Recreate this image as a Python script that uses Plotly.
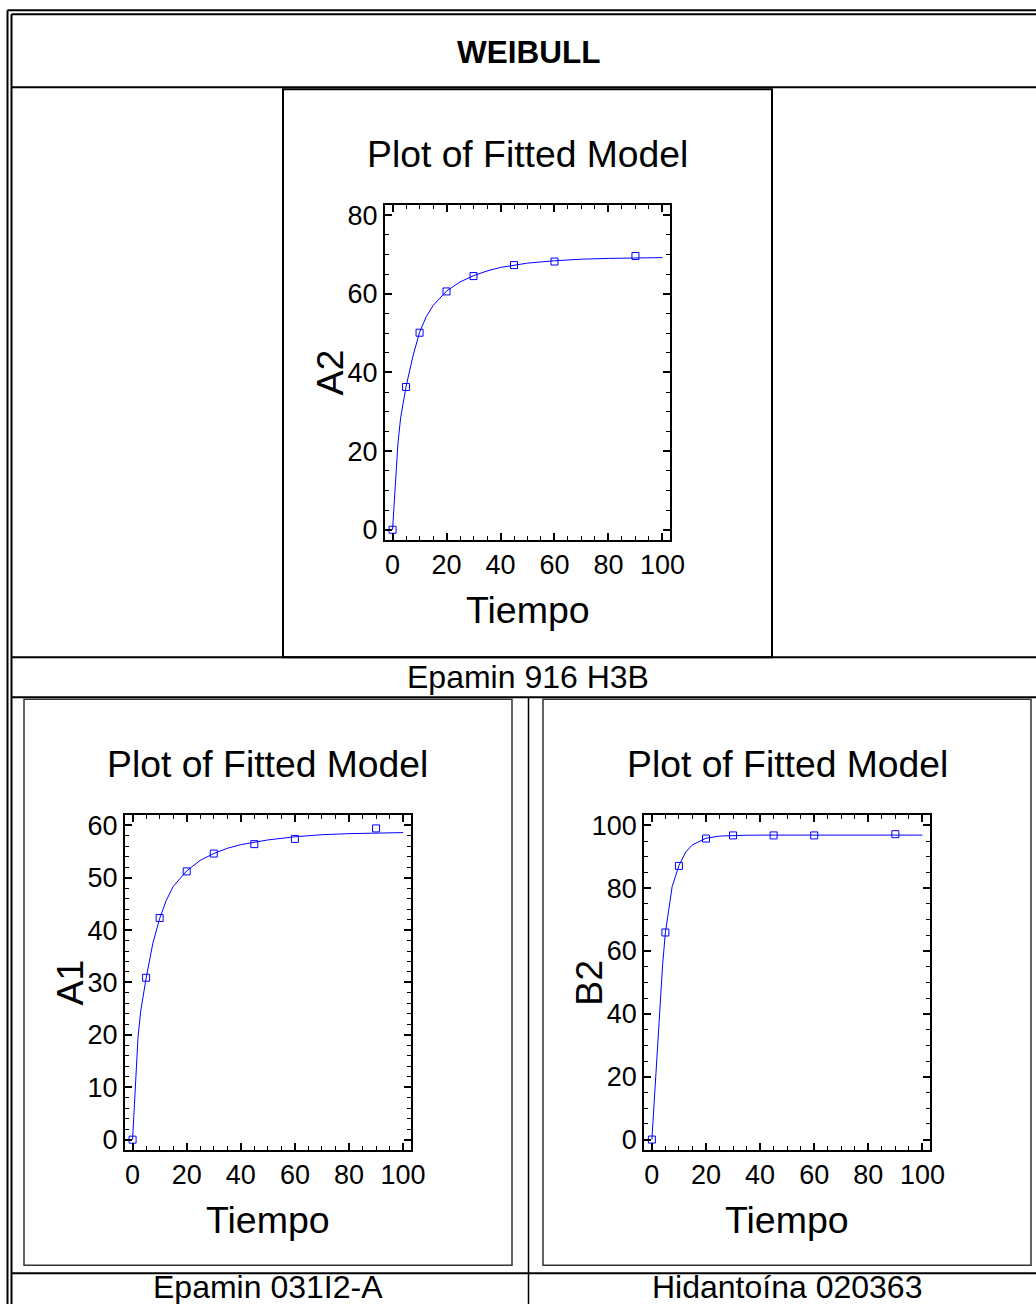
import plotly.graph_objects as go

# Target picture size.  The captured page region is mapped onto the picture as
# x_pic = x_page * 1036/1051 and y_pic = 0.9916 * y_page + 4.7 (measured), so the
# layout below is expressed in picture pixels and converted back to page pixels.
PIC_W, PIC_H = 1036, 1304
SY, TY = 0.9916, 4.7
W = 1051
H = int(round((PIC_H - TY) / SY)) + 1

# ---------------- data ----------------
t_obs = [0, 5, 10, 20, 30, 45, 60, 90]

a2_obs = [0.0, 36.3, 50.1, 60.6, 64.5, 67.3, 68.2, 69.6]
a1_obs = [0.0, 30.9, 42.3, 51.2, 54.6, 56.4, 57.4, 59.4]
b2_obs = [0.0, 65.9, 87.1, 95.8, 96.8, 96.8, 96.8, 97.2]

t_fit = [0, 1, 2, 3, 4, 5, 7.5, 10, 12.5, 15, 20, 25, 30, 35, 40, 50, 60, 70, 80, 90, 100]
a2_fit = [0, 11, 22, 28.5, 33, 36.4, 44, 50.2, 54.2, 57, 60.7, 63, 64.6, 65.8, 66.7, 67.8, 68.4, 68.8, 69.0, 69.1, 69.2]
a1_fit = [0, 10, 19.5, 24.5, 28, 30.8, 37.5, 42.2, 45.7, 48.3, 51.3, 53.3, 54.6, 55.6, 56.3, 57.2, 57.8, 58.2, 58.4, 58.5, 58.6]
b2_fit = [0, 14, 30, 44, 56, 65.9, 80.5, 87.2, 91.5, 93.8, 95.9, 96.6, 96.8, 96.85, 96.9, 96.9, 96.9, 96.9, 96.9, 96.9, 96.9]

x_ticks = [0, 20, 40, 60, 80, 100]

main_title = "WEIBULL"
plot_title = "Plot of Fitted Model"
x_label = "Tiempo"
captions = ["Epamin 916 H3B", "Epamin 031I2-A", "Hidantoína 020363"]
y_labels = ["A2", "A1", "B2"]

FONT = "Liberation Sans, Arial, sans-serif"
BLUE = "#0000ff"


def X(px):
    return px / PIC_W


def Y(py):
    return 1 - ((py - TY) / SY) / H


fig = go.Figure()

panels = [
    # (suffix, fit, obs, ylabel, x-domain px, y-domain px, yrange, ydtick, yminor)
    ("", a2_fit, a2_obs, y_labels[0], (385, 670), (205, 539.3), [-2.5, 82.5], 20, 5),
    ("2", a1_fit, a1_obs, y_labels[1], (125, 410.7), (815, 1149.3), [-1.9, 61.9], 10, 2),
    ("3", b2_fit, b2_obs, y_labels[2], (644.3, 930), (815, 1149.3), [-3.2, 103.2], 20, 5),
]

annotations = []
for suf, fit, obs, ylab, (x0, x1), (y0, y1), yr, ydt, ymin in panels:
    xa = "x" + suf
    ya = "y" + suf
    fig.add_trace(go.Scatter(x=t_fit, y=fit, mode="lines", line=dict(color=BLUE, width=1),
                             xaxis=xa, yaxis=ya, showlegend=False, hoverinfo="skip"))
    fig.add_trace(go.Scatter(x=t_obs, y=obs, mode="markers",
                             marker=dict(symbol="square-open", size=7, color=BLUE, line=dict(width=1, color=BLUE)),
                             xaxis=xa, yaxis=ya, showlegend=False))
    axis_common = dict(showgrid=False, zeroline=False, showline=True, linecolor="black", linewidth=2,
                       mirror="ticks", ticks="inside", ticklen=7, tickwidth=1.5, tickcolor="black",
                       tickfont=dict(family=FONT, size=27, color="black"))
    fig.layout["xaxis" + suf] = dict(axis_common, domain=[X(x0), X(x1)], anchor=ya,
                                     range=[-2.8, 102.8], tickmode="array", tickvals=x_ticks,
                                     minor=dict(dtick=5, tick0=0, ticks="inside", ticklen=4, tickwidth=1, tickcolor="black"))
    fig.layout["yaxis" + suf] = dict(axis_common, domain=[Y(y1), Y(y0)], anchor=xa,
                                     range=yr, dtick=ydt, tick0=0,
                                     minor=dict(dtick=ymin, tick0=0, ticks="inside", ticklen=4, tickwidth=1, tickcolor="black"))
    cx = (x0 + x1) / 2
    cy = (y0 + y1) / 2
    annotations.append(dict(text=plot_title, x=X(cx), y=Y(y0 - 51), xref="paper", yref="paper",
                            xanchor="center", yanchor="middle", showarrow=False,
                            font=dict(family=FONT, size=37.3, color="black")))
    annotations.append(dict(text=x_label, x=X(cx), y=Y(y1 + 70), xref="paper", yref="paper",
                            xanchor="center", yanchor="middle", showarrow=False,
                            font=dict(family=FONT, size=37.5, color="black")))
    annotations.append(dict(text=ylab, x=X(x0 - 55), y=Y(cy), xref="paper", yref="paper",
                            xanchor="center", yanchor="middle", showarrow=False, textangle=-90,
                            font=dict(family=FONT, size=37.5, color="black")))

annotations.append(dict(text="<b>" + main_title + "</b>", x=X(528), y=Y(52), xref="paper", yref="paper",
                        xanchor="center", yanchor="middle", showarrow=False,
                        font=dict(family=FONT, size=31.5, color="black")))
for txt, (cx, cy) in zip(captions, [(528, 677), (268, 1287), (787, 1287)]):
    annotations.append(dict(text=txt, x=X(cx), y=Y(cy), xref="paper", yref="paper",
                            xanchor="center", yanchor="middle", showarrow=False,
                            font=dict(family=FONT, size=32, color="black")))

shapes = []


def hline(y, xa, xb, w=2, c="black"):
    shapes.append(dict(type="line", xref="paper", yref="paper", x0=X(xa), x1=X(xb), y0=Y(y), y1=Y(y),
                       line=dict(color=c, width=w)))


def vline(x, ya, yb, w=2, c="black"):
    shapes.append(dict(type="line", xref="paper", yref="paper", x0=X(x), x1=X(x), y0=Y(ya), y1=Y(yb),
                       line=dict(color=c, width=w)))


def rect(xa, ya, xb, yb, w=2, c="black"):
    shapes.append(dict(type="rect", xref="paper", yref="paper", x0=X(xa), x1=X(xb), y0=Y(ya), y1=Y(yb),
                       line=dict(color=c, width=w)))


# outer double border
hline(10, 7.5, PIC_W + 2, 2)
vline(7.5, 10, PIC_H + 4, 2)
hline(14, 11.5, PIC_W + 2, 2)
vline(11.5, 14, PIC_H + 4, 2)
# row separators
hline(87, 11.5, PIC_W + 2, 2)
hline(657, 11.5, PIC_W + 2, 2)
hline(697, 11.5, PIC_W + 2, 2)
hline(1273, 11.5, PIC_W + 2, 2)
# column divider in lower rows
vline(528.5, 697, PIC_H + 4, 1.5)
# plot frames
rect(283, 89, 772, 657, 2)
rect(24, 699, 512, 1265, 1.5, "#333333")
rect(543, 699, 1031, 1265, 1.5, "#333333")

fig.update_layout(width=W, height=H, margin=dict(l=0, r=0, t=0, b=0),
                  paper_bgcolor="white", plot_bgcolor="white",
                  annotations=annotations, shapes=shapes, showlegend=False,
                  font=dict(family=FONT, color="black"))

fig.write_html("out.html", config={"displayModeBar": False},
               post_script="document.body.style.margin='0px';")
